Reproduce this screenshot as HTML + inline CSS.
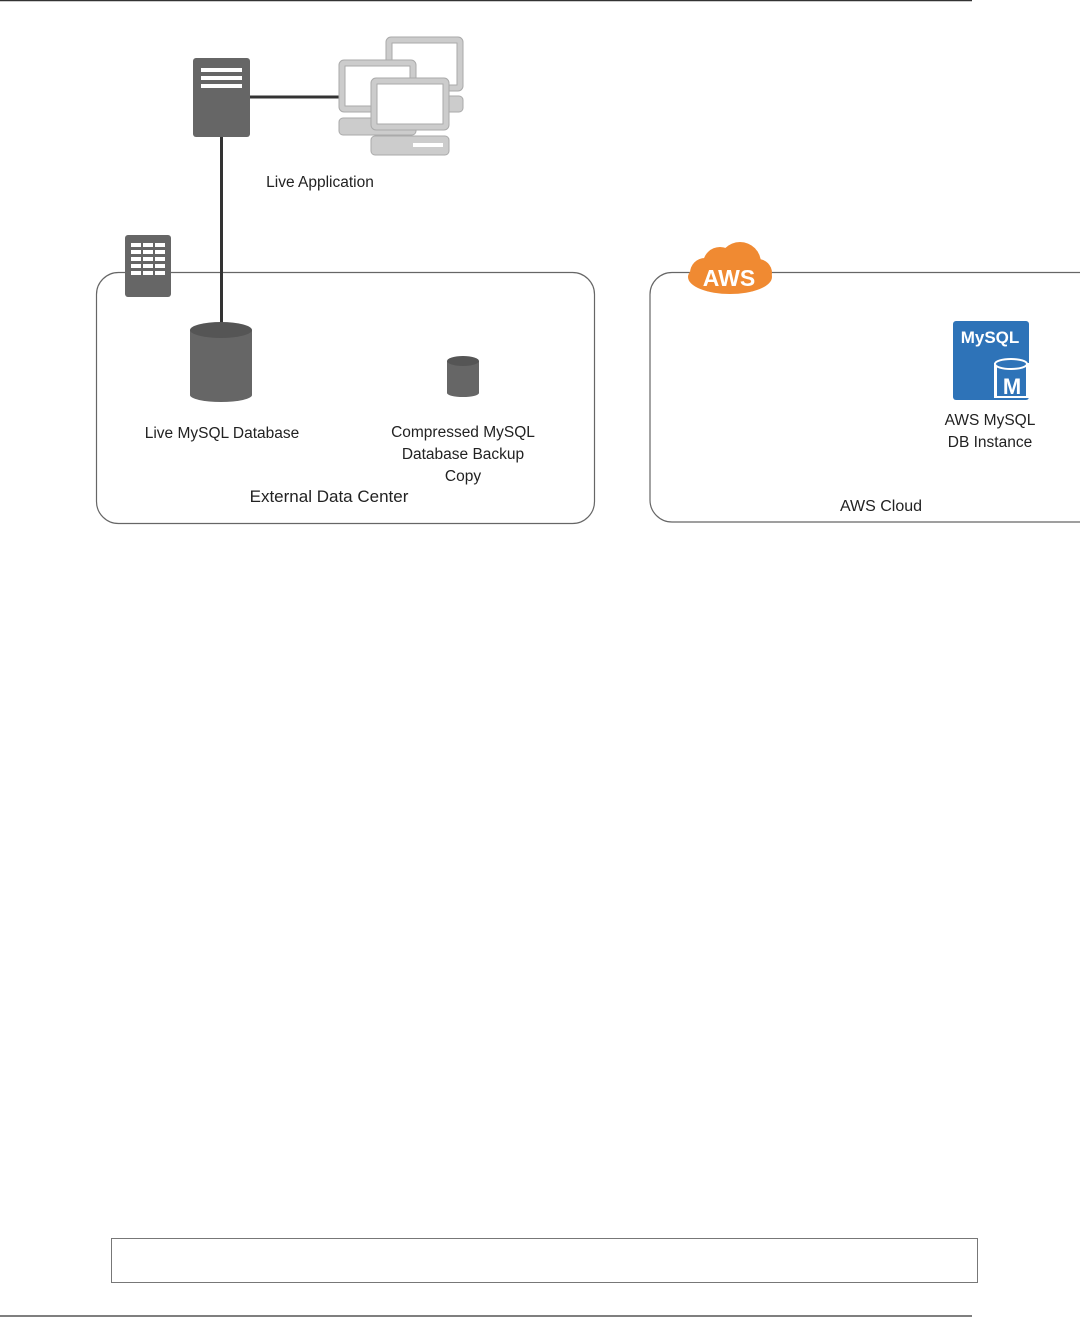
<!DOCTYPE html>
<html><head><meta charset="utf-8"><style>
html,body{margin:0;padding:0;background:#fff;}
svg{display:block;}
text{font-family:"Liberation Sans",sans-serif;fill:#222;}
</style></head><body>
<svg width="1080" height="1317" viewBox="0 0 1080 1317" xmlns="http://www.w3.org/2000/svg">
<line x1="0" y1="0.5" x2="972" y2="0.5" stroke="#333" stroke-width="1.5"/>
<line x1="0" y1="1316" x2="972" y2="1316" stroke="#555" stroke-width="1.5"/>
<rect x="111.5" y="1238.5" width="866" height="44" fill="none" stroke="#777" stroke-width="1"/>

<!-- External data center box -->
<rect x="96.5" y="272.5" width="498" height="251" rx="22" fill="none" stroke="#666" stroke-width="1.2"/>
<!-- AWS cloud box -->
<path d="M1080 272.5 H672 a22 22 0 0 0 -22 22 V500 a22 22 0 0 0 22 22 H1080" fill="none" stroke="#666" stroke-width="1.2"/>

<!-- connectors -->
<line x1="250" y1="97" x2="340" y2="97" stroke="#333" stroke-width="3"/>
<line x1="221.5" y1="136" x2="221.5" y2="325" stroke="#333" stroke-width="3"/>

<!-- server -->
<rect x="193" y="58" width="57" height="79" rx="3" fill="#666"/>
<rect x="201" y="68" width="41" height="4" fill="#fff"/>
<rect x="201" y="76" width="41" height="4" fill="#fff"/>
<rect x="201" y="84" width="41" height="4" fill="#fff"/>

<!-- computers -->
<g fill="#ccc" stroke="#aaa" stroke-width="1">
<rect x="386" y="37" width="77" height="54" rx="5"/>
<rect x="392" y="43" width="65" height="42" fill="#fff"/>
<rect x="420" y="96" width="43" height="16" rx="4"/>
<rect x="339" y="60" width="77" height="52" rx="5"/>
<rect x="345" y="66" width="65" height="40" fill="#fff"/>
<rect x="339" y="118" width="77" height="17" rx="4"/>
<rect x="371" y="78" width="78" height="52" rx="5"/>
<rect x="377" y="84" width="66" height="40" fill="#fff"/>
<rect x="371" y="136" width="78" height="19" rx="4"/>
</g>
<rect x="413" y="143" width="30" height="4" fill="#fff"/>
<text x="320" y="187" font-size="15.5" text-anchor="middle">Live Application</text>

<!-- building -->
<rect x="125" y="235" width="46" height="62" rx="3" fill="#666"/>
<g fill="#fff">
<rect x="131" y="243" width="10" height="4"/><rect x="143" y="243" width="10" height="4"/><rect x="155" y="243" width="10" height="4"/>
<rect x="131" y="250" width="10" height="4"/><rect x="143" y="250" width="10" height="4"/><rect x="155" y="250" width="10" height="4"/>
<rect x="131" y="257" width="10" height="4"/><rect x="143" y="257" width="10" height="4"/><rect x="155" y="257" width="10" height="4"/>
<rect x="131" y="264" width="10" height="4"/><rect x="143" y="264" width="10" height="4"/><rect x="155" y="264" width="10" height="4"/>
<rect x="131" y="271" width="10" height="4"/><rect x="143" y="271" width="10" height="4"/><rect x="155" y="271" width="10" height="4"/>
</g>

<!-- live db cylinder -->
<path d="M190 330 V395 a31 7 0 0 0 62 0 V330 Z" fill="#666"/>
<ellipse cx="221" cy="330" rx="31" ry="8" fill="#555"/>
<text x="222" y="438" font-size="15.5" text-anchor="middle">Live MySQL Database</text>

<!-- backup cylinder -->
<path d="M447 361 V393 a16 4 0 0 0 32 0 V361 Z" fill="#666"/>
<ellipse cx="463" cy="361" rx="16" ry="5" fill="#555"/>
<text x="463" y="437" font-size="15.5" text-anchor="middle">Compressed MySQL</text>
<text x="463" y="459" font-size="15.5" text-anchor="middle">Database Backup</text>
<text x="463" y="481" font-size="15.5" text-anchor="middle">Copy</text>
<text x="329" y="502" font-size="17" text-anchor="middle">External Data Center</text>

<!-- AWS cloud badge -->
<g fill="#f08a32">
<ellipse cx="730" cy="277" rx="42" ry="17"/>
<circle cx="720" cy="264" r="17"/>
<circle cx="740" cy="263" r="21"/>
<circle cx="705" cy="273" r="15"/>
<circle cx="758" cy="273" r="14"/>
</g>
<text x="729" y="286" font-size="23" font-weight="bold" text-anchor="middle" style="fill:#fff">AWS</text>

<!-- MySQL icon -->
<rect x="953" y="321" width="76" height="79" rx="3" fill="#2e73b8"/>
<text x="990" y="343" font-size="17" font-weight="bold" text-anchor="middle" style="fill:#fff">MySQL</text>
<path d="M994 363 V398 H1029 V363 Z" fill="#fff"/>
<path d="M997 366 V396 H1026 V366 Z" fill="#2e73b8"/>
<ellipse cx="1011" cy="364" rx="16" ry="5" fill="#2e73b8" stroke="#fff" stroke-width="2"/>
<text x="1012" y="394" font-size="22" font-weight="bold" text-anchor="middle" style="fill:#fff">M</text>
<text x="990" y="425" font-size="15.5" text-anchor="middle">AWS MySQL</text>
<text x="990" y="447" font-size="15.5" text-anchor="middle">DB Instance</text>
<text x="881" y="511" font-size="16" text-anchor="middle">AWS Cloud</text>
</svg>
</body></html>
